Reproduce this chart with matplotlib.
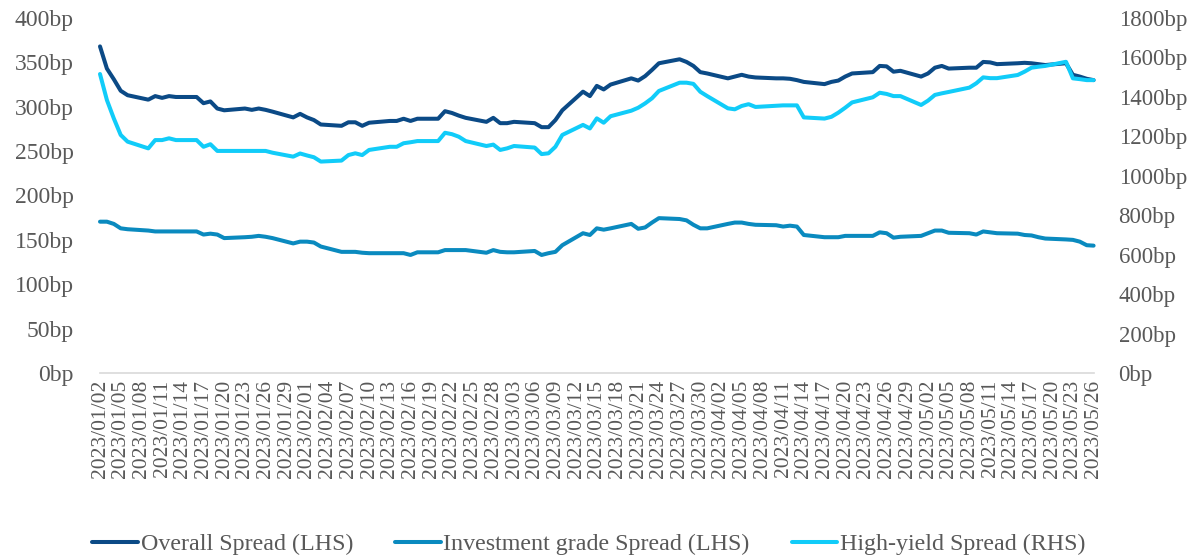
import matplotlib
matplotlib.use("Agg")
import matplotlib.pyplot as plt
import matplotlib.dates as mdates
import pandas as pd

# ---- data (business days 2023-01-02 .. 2023-05-26) ----
start_date = "2023-01-02"
end_date = "2023-05-26"

overall = [
    368, 343, 331, 318, 313,
    308, 312, 310, 312, 311,
    311, 304, 306, 298, 296,
    298, 296.5, 298, 296.5, 294.5,
    288, 292, 288, 285, 280,
    278.5, 282.5, 282.5, 278.5, 282,
    284, 284, 286.5, 284, 286.5,
    286.5, 295, 293, 290, 287.5,
    283, 287.5, 281.5, 281.5, 283,
    281.5, 277, 277, 285, 296,
    317, 312, 323.5, 319.5, 325,
    332, 329.5, 334.5, 341.5, 349,
    353.5, 350.5, 346, 339, 337.5,
    332, 334, 336, 334, 333,
    332, 332, 331.5, 330, 328,
    325.5, 328, 329.5, 334, 337.5,
    339, 346, 345.5, 339.5, 340.5,
    334, 337.5, 344, 346, 343,
    344, 344, 350.5, 350, 348,
    349, 349.5, 349, 348, 347,
    349, 336, 334, 331.5, 330,
]

investment_grade = [
    170.5, 170.5, 168, 163, 162,
    160.5, 159.5, 159.5, 159.5, 159.5,
    159.5, 156, 157, 156, 152,
    153, 153.5, 154.5, 153.5, 152,
    146, 148, 148, 147, 142.5,
    136.5, 136.5, 136.5, 135.5, 135,
    135, 135, 135, 133, 136,
    136, 138.5, 138.5, 138.5, 138.5,
    135.5, 138.5, 136.5, 136, 136,
    137.5, 133, 135, 136.5, 144,
    157.5, 155.5, 163, 161.5, 163,
    168, 162.5, 164, 169.5, 174.5,
    173.5, 172, 167, 163, 163,
    168, 169.5, 169.5, 168, 167,
    166.5, 165, 166, 165, 155.5,
    153, 153, 153, 154.5, 154.5,
    154.5, 158.5, 157.5, 152.5, 153.5,
    154.5, 157.5, 160.5, 160.5, 158,
    157.5, 156, 159.5, 158.5, 157.5,
    157, 155.5, 155, 153, 151.5,
    150.5, 150, 148, 144, 143.5,
]

high_yield = [
    1516, 1384, 1291, 1207, 1173,
    1139, 1181, 1181, 1190, 1181,
    1181, 1147, 1160, 1126, 1126,
    1126, 1126, 1126, 1126, 1117,
    1097, 1113, 1103, 1094, 1072,
    1077, 1105, 1114, 1105, 1131,
    1147, 1147, 1165, 1170, 1176,
    1176, 1218, 1211, 1198, 1176,
    1151, 1158, 1131, 1139, 1151,
    1143, 1110, 1114, 1147, 1207,
    1258, 1240, 1291, 1269, 1302,
    1330, 1345, 1367, 1393, 1430,
    1472, 1472, 1466, 1426, 1404,
    1342, 1337, 1354, 1363, 1349,
    1355, 1357, 1357, 1357, 1296,
    1290, 1299, 1320, 1345, 1372,
    1398, 1421, 1415, 1404, 1404,
    1359, 1381, 1410, 1418, 1425,
    1447, 1469, 1499, 1495, 1495,
    1511, 1528, 1548, 1553, 1557,
    1578, 1494, 1490, 1485, 1485,
]

labels = ["Overall Spread (LHS)", "Investment grade Spread (LHS)", "High-yield Spread (RHS)"]
left_ticks = [0, 50, 100, 150, 200, 250, 300, 350, 400]
right_ticks = [0, 200, 400, 600, 800, 1000, 1200, 1400, 1600, 1800]

dates = pd.bdate_range(start_date, end_date)
tick_dates = pd.date_range(start_date, end_date, freq="3D")

# ---- style ----
TXT = "#595959"
C_OVERALL = "#0B4A86"
C_IG = "#0A8ABF"
C_HY = "#11CCF9"
FONT = "Liberation Serif"
plt.rcParams["font.family"] = [FONT, "DejaVu Serif"]

fig = plt.figure(figsize=(12.04, 5.58), dpi=100)
L, R = 100 / 1204, 1093.6 / 1204
B, T = 1 - 373 / 558, 1 - 18 / 558
ax = fig.add_axes([L, B, R - L, T - B])
ax2 = ax.twinx()

lw = 2.9
kw = dict(lw=lw, solid_capstyle="round", solid_joinstyle="round", clip_on=False)
l1, = ax.plot(dates, overall, color=C_OVERALL, label=labels[0], **kw)
l2, = ax.plot(dates, investment_grade, color=C_IG, label=labels[1], **kw)
l3, = ax2.plot(dates, high_yield, color=C_HY, label=labels[2], **kw)

ax.set_xlim(pd.Timestamp(start_date), pd.Timestamp(end_date))
ax.set_ylim(0, 400)
ax2.set_ylim(0, 1800)

ax.set_yticks(left_ticks)
ax.set_yticklabels([f"{v}bp" for v in left_ticks])
ax2.set_yticks(right_ticks)
ax2.set_yticklabels([f"{v}bp" for v in right_ticks])

ax.set_xticks(tick_dates)
ax.xaxis.set_major_formatter(mdates.DateFormatter("%Y/%m/%d"))
for lab in ax.get_xticklabels():
    lab.set_rotation(90)

ax.tick_params(axis="x", length=0, pad=5, labelsize=15.5, colors=TXT)
ax.tick_params(axis="y", length=0, pad=19, labelsize=17, colors=TXT)
ax2.tick_params(axis="y", length=0, pad=18, labelsize=16.5, colors=TXT)

for a in (ax, ax2):
    for s in ("top", "left", "right", "bottom"):
        a.spines[s].set_visible(False)
ax.spines["bottom"].set_visible(True)
ax.spines["bottom"].set_color("#D9D9D9")
ax.spines["bottom"].set_linewidth(1.2)

leg = fig.legend(handles=[l1, l2, l3], labels=labels, loc="center left",
                 bbox_to_anchor=(92 / 1204, 1 - 544 / 558), ncol=3, frameon=False,
                 fontsize=17.3, handlelength=1.9, handletextpad=0.12,
                 columnspacing=1.75, borderaxespad=0, borderpad=0)
for t in leg.get_texts():
    t.set_color(TXT)

fig.savefig("out.png", dpi=100)
